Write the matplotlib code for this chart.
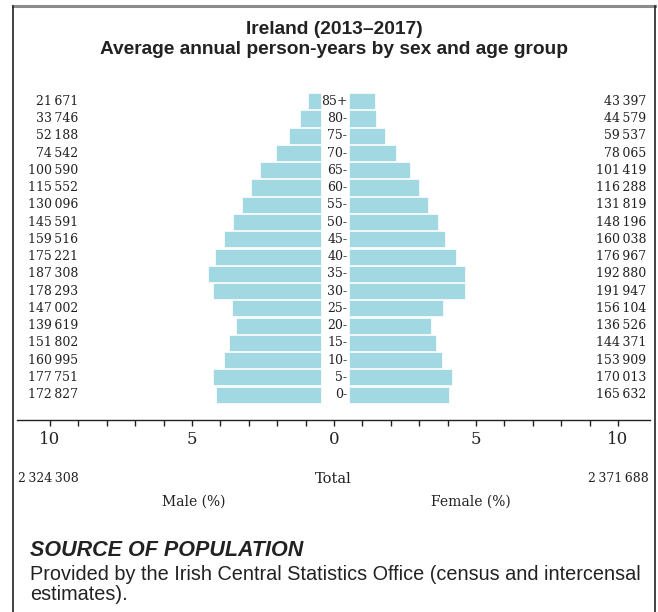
import matplotlib
matplotlib.use("Agg")
import matplotlib.pyplot as plt
from matplotlib.lines import Line2D

# data, oldest age group first
ages = ['85+', '80-', '75-', '70-', '65-', '60-', '55-', '50-', '45-',
        '40-', '35-', '30-', '25-', '20-', '15-', '10-', '5-', '0-']
male = [21671, 33746, 52188, 74542, 100590, 115552, 130096, 145591, 159516,
        175221, 187308, 178293, 147002, 139619, 151802, 160995, 177751, 172827]
female = [43397, 44579, 59537, 78065, 101419, 116288, 131819, 148196, 160038,
          176967, 192880, 191947, 156104, 136526, 144371, 153909, 170013, 165632]
male_total = 2324308
female_total = 2371688
tick_vals = [-10, -5, 0, 5, 10]

bar_col = '#a2d8e2'
txt_col = '#222222'
serif = 'DejaVu Serif'
sans = 'Liberation Sans'


def fmt(n):
    return '{:,}'.format(n).replace(',', '\u2009')


grand = male_total + female_total
male_pct = [m / grand * 100 for m in male]
female_pct = [f / grand * 100 for f in female]
gap_l, gap_r = 0.46, 0.52

W, H = 658, 612
fig = plt.figure(figsize=(W / 100, H / 100), dpi=100)
ax = fig.add_axes([17 / W, (H - 420) / H, 633 / W, 335 / H])

n = len(ages)
ypos = [n - 1 - i for i in range(n)]
ax.barh(ypos, [-p for p in male_pct], left=-gap_l, height=0.93,
        color=bar_col, edgecolor='white', linewidth=0.5)
ax.barh(ypos, female_pct, left=gap_r, height=0.93,
        color=bar_col, edgecolor='white', linewidth=0.5)

ax.set_xlim(-11.16, 11.13)
ax.set_ylim(-1.47, 17.94)

for y, a, m, f in zip(ypos, ages, male, female):
    ax.text(gap_r - 0.05, y, a, ha='right', va='center', fontsize=9,
            family=serif, color=txt_col)
    ax.text(-9.0, y, fmt(m), ha='right', va='center', fontsize=9,
            family=serif, color=txt_col)
    ax.text(11.0, y, fmt(f), ha='right', va='center', fontsize=9,
            family=serif, color=txt_col)

for s in ['top', 'left', 'right']:
    ax.spines[s].set_visible(False)
ax.spines['bottom'].set_color(txt_col)
ax.spines['bottom'].set_linewidth(1.0)
ax.set_yticks([])
ax.set_xticks(range(-10, 11), minor=True)
ax.set_xticks(tick_vals)
ax.set_xticklabels([str(abs(v)) for v in tick_vals], family=serif,
                   fontsize=12, color=txt_col)
ax.tick_params(axis='x', which='both', length=4, width=1, color=txt_col,
               direction='out', pad=4)

# totals and legend labels under the axis
fig.text(18 / W, 1 - 479 / H, fmt(male_total), ha='left', va='center',
         fontsize=9, family=serif, color=txt_col)
fig.text(333 / W, 1 - 479 / H, 'Total', ha='center', va='center',
         fontsize=10.5, family=serif, color=txt_col)
fig.text(649 / W, 1 - 479 / H, fmt(female_total), ha='right', va='center',
         fontsize=9, family=serif, color=txt_col)
fig.text(194 / W, 1 - 502 / H, 'Male (%)', ha='center', va='center',
         fontsize=10, family=serif, color=txt_col)
fig.text(471 / W, 1 - 502 / H, 'Female (%)', ha='center', va='center',
         fontsize=10, family=serif, color=txt_col)

# titles
fig.text(334 / W, 1 - 29 / H, 'Ireland (2013\u20132017)', ha='center',
         va='center', fontsize=13.8, fontweight='bold', family=sans,
         color=txt_col)
fig.text(334 / W, 1 - 50 / H, 'Average annual person-years by sex and age group',
         ha='center', va='center', fontsize=13.8, fontweight='bold',
         family=sans, color=txt_col)

# source note
fig.text(30 / W, 1 - 550 / H, 'SOURCE OF POPULATION', ha='left', va='center',
         fontsize=15.5, fontweight='bold', style='italic', family=sans,
         color=txt_col)
fig.text(30 / W, 1 - 574 / H,
         'Provided by the Irish Central Statistics Office (census and intercensal',
         ha='left', va='center', fontsize=14.3, family=sans, color=txt_col)
fig.text(30 / W, 1 - 595 / H, 'estimates).', ha='left', va='center',
         fontsize=14.3, family=sans, color=txt_col)

# frame around the panel
fig.add_artist(Line2D([13 / W, 655 / W], [1 - 6 / H, 1 - 6 / H],
                      transform=fig.transFigure, color='#8c8c8c', lw=2.2))
fig.add_artist(Line2D([13 / W, 13 / W], [0, 1 - 6 / H],
                      transform=fig.transFigure, color=txt_col, lw=1.2))
fig.add_artist(Line2D([655 / W, 655 / W], [0, 1 - 6 / H],
                      transform=fig.transFigure, color=txt_col, lw=1.2))

fig.savefig('out.png', dpi=100)
